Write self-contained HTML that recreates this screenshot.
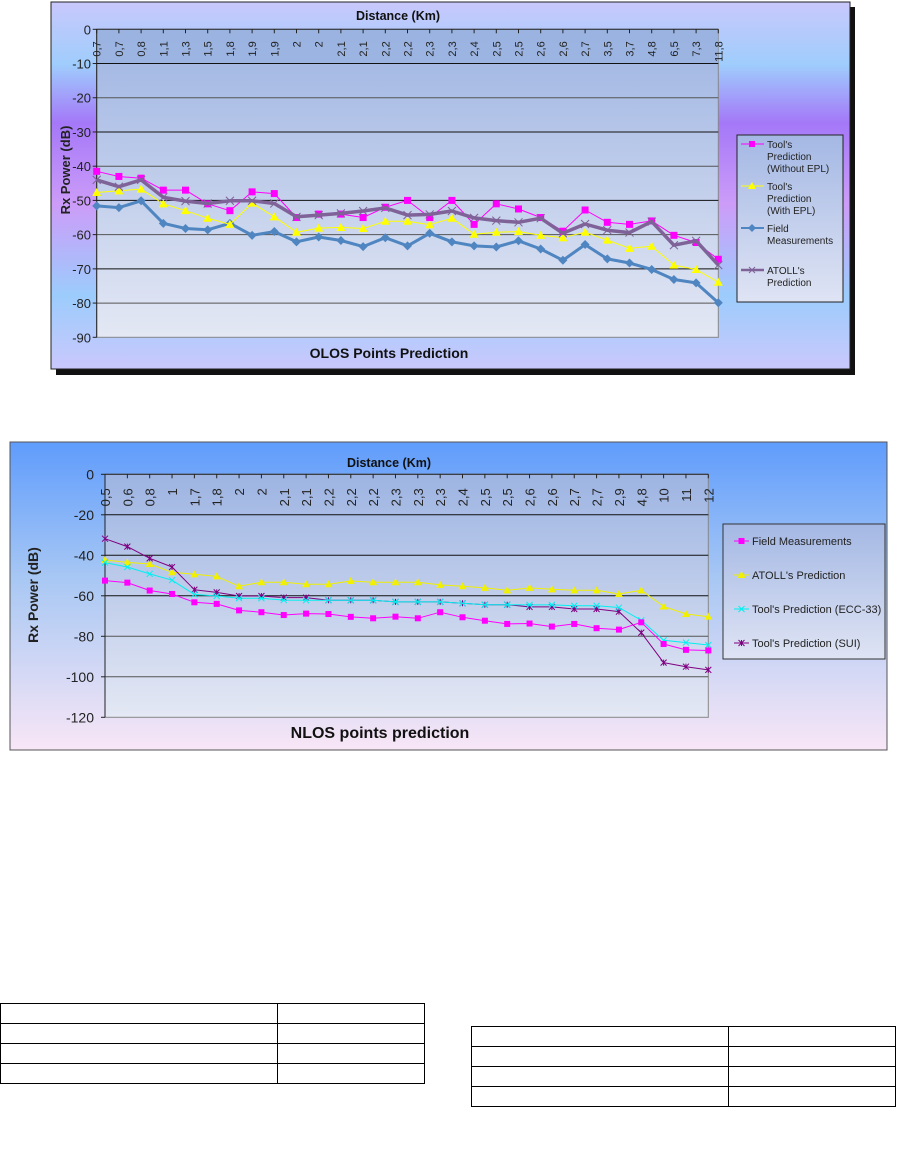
<!DOCTYPE html>
<html><head><meta charset="utf-8"><style>
html,body{margin:0;padding:0;background:#fff;width:915px;height:1159px;overflow:hidden;font-family:"Liberation Sans",Arial,sans-serif}
svg{position:absolute;left:0;top:0}
table{position:absolute;border-collapse:collapse}
td{border:1.3px solid #000;height:19px;padding:0}
</style></head><body>
<svg id="s" width="915" height="1159" xmlns="http://www.w3.org/2000/svg">
<defs>
<linearGradient id="bg1" x1="0" y1="0" x2="0" y2="1">
<stop offset="0" stop-color="#c9c8fc"/><stop offset="0.17" stop-color="#9fcdfc"/><stop offset="0.33" stop-color="#a478f8"/><stop offset="0.55" stop-color="#cc9cf8"/><stop offset="0.8" stop-color="#9cccfc"/><stop offset="1" stop-color="#cac8fc"/></linearGradient>
<linearGradient id="pl" x1="0" y1="0" x2="0" y2="1">
<stop offset="0" stop-color="#9db4e2"/><stop offset="1" stop-color="#e4e8f4"/></linearGradient>
<linearGradient id="bg2" x1="0" y1="0" x2="0" y2="1">
<stop offset="0" stop-color="#5f9cfc"/><stop offset="0.45" stop-color="#a9c8f4"/><stop offset="1" stop-color="#f8e6f6"/></linearGradient>
<linearGradient id="lg1" x1="0" y1="0" x2="0" y2="1">
<stop offset="0" stop-color="#a4b8e4"/><stop offset="1" stop-color="#dfe4f4"/></linearGradient>
</defs>
<rect x="56" y="7" width="799" height="368" fill="#111"/>
<rect x="51" y="2" width="799" height="367" fill="url(#bg1)" stroke="#222" stroke-width="1"/>
<rect x="96.7" y="29.3" width="621.6" height="308" fill="url(#pl)" stroke="#888"/>
<rect x="96.7" y="29.3" width="621.6" height="34.2" fill="#98b2e0" opacity="0.7"/>
<rect x="737" y="135" width="106" height="167" fill="url(#lg1)" stroke="#222"/>
<g id="t"></g>
<rect x="10" y="442" width="877" height="308" fill="url(#bg2)" stroke="#555"/>
<rect x="105" y="474.3" width="603.3" height="243" fill="url(#pl)" stroke="#888"/>
<rect x="723" y="524" width="162" height="135" fill="url(#lg1)" stroke="#333"/>
<g id="b"></g>
</svg>
<table style="left:0;top:1003px;width:425px"><tr><td style="width:276px"></td><td></td></tr><tr><td></td><td></td></tr><tr><td></td><td></td></tr><tr><td></td><td></td></tr></table>
<table style="left:471px;top:1026px;width:425px"><tr><td style="width:256px"></td><td></td></tr><tr><td></td><td></td></tr><tr><td></td><td></td></tr><tr><td></td><td></td></tr></table>
<script>
var NS="http://www.w3.org/2000/svg";
function el(p,n,a,t){var e=document.createElementNS(NS,n);for(var k in a)e.setAttribute(k,a[k]);if(t!=null)e.textContent=t;p.appendChild(e);return e;}
function marker(g,type,x,y,c,s){
 if(type=="sq")el(g,"rect",{x:x-s,y:y-s,width:2*s,height:2*s,fill:c});
 else if(type=="tri")el(g,"polygon",{points:(x)+","+(y-s-1)+" "+(x-s-1)+","+(y+s)+" "+(x+s+1)+","+(y+s),fill:c});
 else if(type=="dia")el(g,"polygon",{points:x+","+(y-s-1)+" "+(x+s+1)+","+y+" "+x+","+(y+s+1)+" "+(x-s-1)+","+y,fill:c});
 else if(type=="x"){el(g,"path",{d:"M"+(x-s)+","+(y-s)+"L"+(x+s)+","+(y+s)+"M"+(x-s)+","+(y+s)+"L"+(x+s)+","+(y-s),stroke:c,"stroke-width":1});}
 else if(type=="st"){el(g,"path",{d:"M"+(x-s)+","+(y-s)+"L"+(x+s)+","+(y+s)+"M"+(x-s)+","+(y+s)+"L"+(x+s)+","+(y-s)+"M"+x+","+(y-s)+"L"+x+","+(y+s),stroke:c,"stroke-width":1});}
}
function series(g,X,Y,data,c,w,m,mc,ms){
 var d="";data.forEach(function(v,i){d+=(i?"L":"M")+X(i).toFixed(1)+","+Y(-v).toFixed(1);});
 el(g,"path",{d:d,fill:"none",stroke:c,"stroke-width":w,"stroke-linejoin":"round"});
 data.forEach(function(v,i){marker(g,m,X(i),Y(-v),mc,ms);});
}
(function(){
var g=document.getElementById("t");
var L=96.7,R=718.3,T=29.3,B=337.3;
var X=function(i){return L+i*(R-L)/28;},Y=function(v){return T+(-v)/90*(B-T);};
for(var k=1;k<=9;k++){var y=Y(-10*k);if(k<9)el(g,"line",{x1:L,x2:R,y1:y,y2:y,stroke:k%2?"#111":"#555","stroke-width":1});}
for(k=0;k<=9;k++){var y=Y(-10*k);el(g,"text",{x:91,y:y+5,"text-anchor":"end","font-size":"13",fill:"#222"},k?"-"+(10*k):"0");el(g,"line",{x1:L-4,x2:L,y1:y,y2:y,stroke:"#222"});}
el(g,"line",{x1:L,x2:L,y1:T,y2:B,stroke:"#222"});
el(g,"line",{x1:L,x2:R,y1:T,y2:T,stroke:"#222"});
var labs="0,7 0,7 0,8 1,1 1,3 1,5 1,8 1,9 1,9 2 2 2,1 2,1 2,2 2,2 2,3 2,3 2,4 2,5 2,5 2,6 2,6 2,7 3,5 3,7 4,8 6,5 7,3 11,8".split(" ");
labs.forEach(function(s,i){var x=X(i);el(g,"line",{x1:x,x2:x,y1:T,y2:T+4,stroke:"#222"});
 el(g,"text",{x:0,y:0,transform:"translate("+(x+4)+","+(T+12)+") rotate(-90)","text-anchor":"end","font-size":"11",fill:"#222"},s);});
el(g,"text",{x:398,y:20,"text-anchor":"middle","font-size":"12.5","font-weight":"bold",fill:"#111"},"Distance (Km)");
el(g,"text",{x:389,y:358,"text-anchor":"middle","font-size":"14","font-weight":"bold",fill:"#111"},"OLOS Points Prediction");
el(g,"text",{x:0,y:0,transform:"translate(70,170) rotate(-90)","text-anchor":"middle","font-size":"13","font-weight":"bold",fill:"#222"},"Rx Power (dB)");
var pink=[41.5,43,43.5,47,47,51,53,47.5,48,55,54,54,55,52,50,55,50,57,51,52.5,55,59,52.8,56.4,57,56,60.2,62.3,67.2];
var yel=[47.7,47.2,46.7,51,53,55.2,57,50.8,54.8,59.3,58.1,57.9,58.2,56.1,56.1,57.1,55.2,59.9,59.3,59.1,60.2,60.9,59.3,61.6,64,63.4,68.9,70.2,73.9];
var blu=[51.6,52.1,50.1,56.7,58.2,58.6,56.7,60.2,59.1,62.1,60.7,61.7,63.5,60.9,63.3,59.6,62.1,63.3,63.6,61.8,64.2,67.5,62.9,67.1,68.3,70.2,73.1,74.1,79.9];
var pur=[44,46,44,49.1,50.2,50.9,50.1,50.1,50.9,54.8,54.3,53.8,53.1,52.2,54.3,54.1,53.1,55.1,55.9,56.4,55.2,59.6,56.9,58.7,59.4,56.2,63.1,61.8,68.9];
series(g,X,Y,blu,"#4f85c0",3,"dia","#4f85c0",3.5);
series(g,X,Y,yel,"#ffff00",1,"tri","#ffff00",3.5);
series(g,X,Y,pink,"#ff00ff",1,"sq","#ff00ff",3.5);
series(g,X,Y,pur,"#7f6398",3.5,"x","#7f6398",4);
var lg=[["Tool's","Prediction","(Without EPL)"],["Tool's","Prediction","(With EPL)"],["Field","Measurements"],["ATOLL's","Prediction"]];
var ly=[144,186,228,270],lc=["#ff00ff","#ffff00","#4f85c0","#7f6398"],lm=["sq","tri","dia","x"],lw=[1,1,2,2.5];
lg.forEach(function(a,i){el(g,"line",{x1:741,x2:764,y1:ly[i],y2:ly[i],stroke:lc[i],"stroke-width":lw[i]});marker(g,lm[i],752,ly[i],lc[i],3);
 a.forEach(function(s,j){el(g,"text",{x:767,y:ly[i]+4+j*12,"font-size":"10",fill:"#222"},s);});});
})();
(function(){
var g=document.getElementById("b");
var L=105,R=708.3,T=474.3,B=717.3;
var X=function(i){return L+i*(R-L)/27;},Y=function(v){return T+(-v)/120*(B-T);};
for(var k=1;k<=5;k++){var y=Y(-20*k);el(g,"line",{x1:L,x2:R,y1:y,y2:y,stroke:k<=3?"#111":"#555","stroke-width":1});}
for(k=0;k<=6;k++){var y=Y(-20*k);el(g,"text",{x:94,y:y+5,"text-anchor":"end","font-size":"14",fill:"#222"},k?"-"+(20*k):"0");el(g,"line",{x1:L-4,x2:L,y1:y,y2:y,stroke:"#222"});}
el(g,"line",{x1:L,x2:L,y1:T,y2:B,stroke:"#222"});
el(g,"line",{x1:L,x2:R,y1:T,y2:T,stroke:"#222"});
var labs="0,5 0,6 0,8 1 1,7 1,8 2 2 2,1 2,1 2,2 2,2 2,2 2,3 2,3 2,3 2,4 2,5 2,5 2,6 2,6 2,7 2,7 2,9 4,8 10 11 12".split(" ");
labs.forEach(function(s,i){var x=X(i);el(g,"line",{x1:x,x2:x,y1:T,y2:T+4,stroke:"#222"});
 el(g,"text",{x:0,y:0,transform:"translate("+(x+5)+","+(T+14)+") rotate(-90)","text-anchor":"end","font-size":"13",fill:"#222"},s);});
el(g,"text",{x:389,y:467,"text-anchor":"middle","font-size":"12.5","font-weight":"bold",fill:"#111"},"Distance (Km)");
el(g,"text",{x:380,y:738,"text-anchor":"middle","font-size":"16","font-weight":"bold",fill:"#111"},"NLOS points prediction");
el(g,"text",{x:0,y:0,transform:"translate(38,595) rotate(-90)","text-anchor":"middle","font-size":"14","font-weight":"bold",fill:"#222"},"Rx Power (dB)");
var fm=[52.5,53.5,57.4,59.1,63.2,64,67.2,68.1,69.5,68.8,69,70.4,71.1,70.3,71.1,68.1,70.6,72.3,73.9,73.7,75.2,73.9,76,76.7,73.1,83.8,86.7,87];
var at=[42.3,43.5,44.3,48.4,49.4,50.4,55.3,53.3,53.3,54.3,54.3,52.7,53.3,53.3,53.3,54.6,55.3,56.1,57.3,56.1,56.8,57.3,57.3,59.1,57.3,65.3,69,70.3];
var ec=[43.6,45.8,49.2,52.3,59.3,60.1,61.2,61.2,62.1,62.2,62.2,62.2,62.2,63,63,63,63.7,64.4,64.4,64.5,64.5,64.9,64.9,65.8,72.1,82,83.1,84.3];
var su=[31.8,35.7,41.5,45.8,57,58.3,60.1,60.1,60.9,60.9,62.2,62.2,62.2,63,63,63,63.7,64.4,64.4,65.5,65.5,66.5,66.5,67.8,78.2,93,95,96.6];
series(g,X,Y,at,"#f0f000",1,"tri","#f0f000",3);
series(g,X,Y,su,"#800080",1,"st","#800080",3);
series(g,X,Y,ec,"#00f0f0",1,"x","#00f0f0",3);
series(g,X,Y,fm,"#ff00ff",1,"sq","#ff00ff",3);
var ln=["Field Measurements","ATOLL's Prediction","Tool's Prediction (ECC-33)","Tool's Prediction (SUI)"];
var lc=["#ff00ff","#f0f000","#00f0f0","#800080"],lm=["sq","tri","x","st"];
ln.forEach(function(s,i){var y=541+i*34;el(g,"line",{x1:734,x2:749,y1:y,y2:y,stroke:lc[i]});marker(g,lm[i],741.5,y,lc[i],3);
 el(g,"text",{x:752,y:y+4,"font-size":"11",fill:"#222"},s);});
})();
</script>
</body></html>
